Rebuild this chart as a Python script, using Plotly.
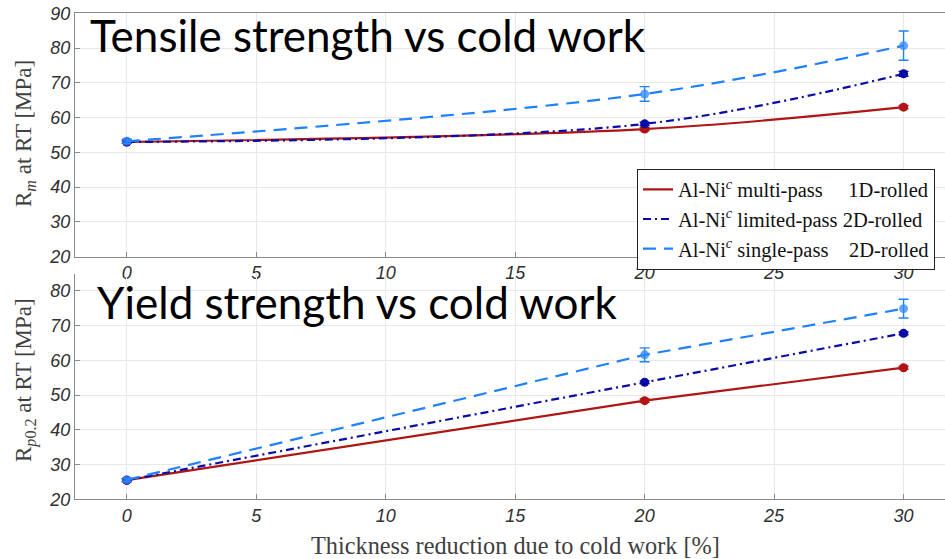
import plotly.graph_objects as go

# Cold-work levels (thickness reduction, %)
thickness_reduction = [0, 20, 30]

# Tensile strength Rm [MPa]
rm_multi = [53.0, 56.7, 63.0]
rm_limited = [53.0, 58.2, 72.6]
rm_single = [53.2, 66.8, 80.7]
rm_single_err = [0.6, 2.1, 4.2]
rm_multi_err = [0.4, 0.5, 0.5]
rm_limited_err = [0.4, 0.5, 0.7]

# Yield strength Rp0.2 [MPa]
rp_multi = [25.5, 48.4, 57.9]
rp_limited = [25.5, 53.7, 67.8]
rp_single = [25.6, 61.6, 74.9]
rp_single_err = [0.5, 2.0, 2.7]
rp_multi_err = [0.4, 0.5, 0.4]
rp_limited_err = [0.4, 0.4, 0.4]

x_ticks = [0, 5, 10, 15, 20, 25, 30]
rm_ticks = [20, 30, 40, 50, 60, 70, 80, 90]
rp_ticks = [20, 30, 40, 50, 60, 70, 80]

series_names = [
    "Al-Ni<sup><i>c</i></sup> multi-pass\u00a0\u00a0\u00a0\u00a0 1D-rolled",
    "Al-Ni<sup><i>c</i></sup> limited-pass 2D-rolled",
    "Al-Ni<sup><i>c</i></sup> single-pass\u00a0\u00a0\u00a0 2D-rolled",
]

RED = "#B01515"
NAVY = "#0A0AA8"
SKY = "#1F80FF"

styles = [
    dict(color=RED, dash="solid", mcolor=RED),
    dict(color=NAVY, dash="8px,4px,2px,4px", mcolor=NAVY),
    dict(color=SKY, dash="13px,8px", mcolor="rgba(50,135,255,0.75)"),
]

fig = go.Figure()

top_sets = [(rm_multi, rm_multi_err), (rm_limited, rm_limited_err), (rm_single, rm_single_err)]
bot_sets = [(rp_multi, rp_multi_err), (rp_limited, rp_limited_err), (rp_single, rp_single_err)]

for i, ((yv, ye), st) in enumerate(zip(top_sets, styles)):
    fig.add_trace(go.Scatter(
        x=thickness_reduction, y=yv, name=series_names[i],
        mode="lines+markers", xaxis="x", yaxis="y",
        line=dict(color=st["color"], width=2.2, dash=st["dash"], shape="spline", smoothing=1.0),
        marker=dict(color=st["mcolor"], size=9),
        error_y=dict(type="data", array=ye, color=st["color"], thickness=1.4, width=5),
        showlegend=False, legendgroup=str(i),
    ))

for i, ((yv, ye), st) in enumerate(zip(bot_sets, styles)):
    fig.add_trace(go.Scatter(
        x=thickness_reduction, y=yv, name=series_names[i],
        mode="lines+markers", xaxis="x2", yaxis="y2",
        line=dict(color=st["color"], width=2.2, dash=st["dash"]),
        marker=dict(color=st["mcolor"], size=9),
        error_y=dict(type="data", array=ye, color=st["color"], thickness=1.4, width=5),
        showlegend=False, legendgroup=str(i),
    ))

# Line-only legend entries (the legend shows line styles without markers)
for i, st in enumerate(styles):
    fig.add_trace(go.Scatter(
        x=[None], y=[None], name=series_names[i], mode="lines",
        xaxis="x", yaxis="y",
        line=dict(color=st["color"], width=2.2, dash=st["dash"]),
        showlegend=True, legendgroup=str(i),
    ))

tick_font = dict(family="Liberation Sans", size=18, color="#303030", style="italic")
axis_common = dict(
    showline=True, linecolor="#8a8a8a", linewidth=1.2,
    ticks="inside", ticklen=5, tickcolor="#8a8a8a",
    showgrid=True, gridcolor="#e8e8e8", gridwidth=1,
    zeroline=False, tickfont=tick_font,
)

W, H = 945, 559
L = 75


def py(p):
    return 1 - p / H


def px(p):
    return (p - L) / (W - L)


fig.update_layout(
    width=W, height=H,
    margin=dict(l=L, r=0, t=0, b=0, autoexpand=False),
    paper_bgcolor="white", plot_bgcolor="white",
    xaxis=dict(domain=[0, 1], anchor="y", range=[-2, 31.6], tickvals=x_ticks,
               mirror=True, **axis_common),
    yaxis=dict(domain=[py(256.7), py(13.3)], anchor="x", range=[20, 90], tickvals=rm_ticks,
               **axis_common),
    xaxis2=dict(domain=[0, 1], anchor="y2", range=[-2, 31.6], tickvals=x_ticks,
                **axis_common),
    yaxis2=dict(domain=[py(499.3), py(273.6)], anchor="x2", range=[20, 85], tickvals=rp_ticks,
                **axis_common),
    legend=dict(
        x=px(637), y=py(168.5), xanchor="left", yanchor="top",
        bgcolor="white", bordercolor="#222222", borderwidth=1,
        font=dict(family="Liberation Serif", size=20.5, color="#111111"),
        tracegroupgap=0, itemwidth=30,
    ),
    showlegend=True,
)

label_font = dict(family="Liberation Serif", size=23, color="#404040")
fig.add_annotation(text="R<sub><i>m</i></sub> at RT [MPa]", textangle=-90,
                   xref="paper", yref="paper", x=px(25), y=py(134),
                   xanchor="center", yanchor="middle", showarrow=False, font=label_font)
fig.add_annotation(text="R<sub><i>p</i>0.2</sub> at RT [MPa]", textangle=-90,
                   xref="paper", yref="paper", x=px(25), y=py(380),
                   xanchor="center", yanchor="middle", showarrow=False, font=label_font)
fig.add_annotation(text="Thickness reduction due to cold work [%]",
                   xref="paper", yref="paper", x=px(515), y=py(545),
                   xanchor="center", yanchor="middle", showarrow=False,
                   font=dict(family="Liberation Serif", size=24.3, color="#404040"))

title_font = dict(family="Lato", size=44, color="black")
fig.add_annotation(text="Tensile strength vs cold work",
                   xref="paper", yref="paper", x=px(88), y=py(35),
                   xanchor="left", yanchor="middle", showarrow=False, font=title_font)
fig.add_annotation(text="Yield strength vs cold work",
                   xref="paper", yref="paper", x=px(95), y=py(302),
                   xanchor="left", yanchor="middle", showarrow=False, font=title_font)

fig.write_html("out.html")
